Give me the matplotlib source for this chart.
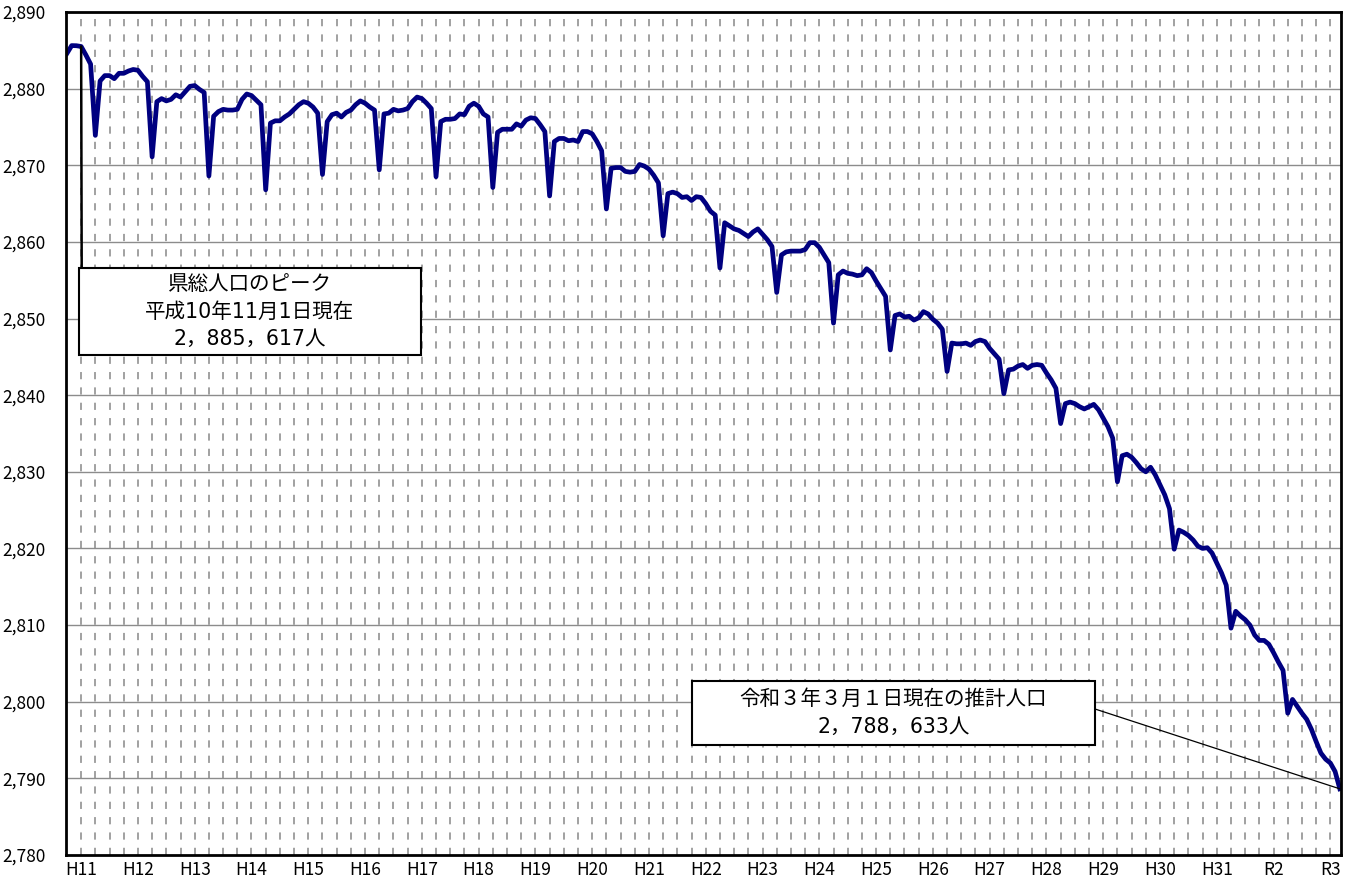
import matplotlib
matplotlib.use("Agg")
import matplotlib.pyplot as plt
from matplotlib.patches import Rectangle
import numpy as np

plt.rcParams['font.family'] = ['Noto Sans CJK JP', 'DejaVu Sans']

# Monthly estimated population (thousands), 1st of each month, Oct 1998 - Mar 2021
pop_1998 = [2884.6, 2885.617, 2885.6]  # Oct-Dec
pop_1999 = [2885.5, 2884.4, 2883.2, 2873.9, 2881.0, 2881.7, 2881.7, 2881.3, 2882.0, 2882.0, 2882.3, 2882.5]
pop_2000 = [2882.4, 2881.6, 2880.9, 2871.1, 2878.3, 2878.7, 2878.4, 2878.6, 2879.2, 2878.9, 2879.6, 2880.3]
pop_2001 = [2880.4, 2879.9, 2879.5, 2868.6, 2876.4, 2877.0, 2877.3, 2877.2, 2877.2, 2877.3, 2878.6, 2879.3]
pop_2002 = [2879.1, 2878.5, 2877.9, 2866.8, 2875.5, 2875.8, 2875.8, 2876.3, 2876.7, 2877.3, 2877.9, 2878.3]
pop_2003 = [2878.1, 2877.6, 2876.8, 2868.8, 2875.7, 2876.6, 2876.8, 2876.3, 2876.9, 2877.2, 2877.9, 2878.4]
pop_2004 = [2878.1, 2877.6, 2877.2, 2869.4, 2876.7, 2876.8, 2877.3, 2877.1, 2877.2, 2877.4, 2878.3, 2878.9]
pop_2005 = [2878.7, 2878.1, 2877.4, 2868.5, 2875.7, 2876.0, 2876.0, 2876.1, 2876.7, 2876.6, 2877.7, 2878.1]
pop_2006 = [2877.7, 2876.7, 2876.3, 2867.1, 2874.3, 2874.7, 2874.7, 2874.7, 2875.4, 2875.1, 2875.9, 2876.2]
pop_2007 = [2876.1, 2875.3, 2874.4, 2866.0, 2873.1, 2873.5, 2873.5, 2873.2, 2873.3, 2873.1, 2874.4, 2874.4]
pop_2008 = [2874.1, 2873.1, 2871.9, 2864.3, 2869.6, 2869.7, 2869.7, 2869.2, 2869.1, 2869.2, 2870.1, 2869.9]
pop_2009 = [2869.5, 2868.7, 2867.7, 2860.8, 2866.3, 2866.5, 2866.3, 2865.8, 2865.9, 2865.4, 2865.9, 2865.8]
pop_2010 = [2865.0, 2864.0, 2863.5, 2856.6, 2862.5, 2862.1, 2861.7, 2861.5, 2861.1, 2860.7, 2861.3, 2861.7]
pop_2011 = [2861.0, 2860.3, 2859.4, 2853.4, 2858.3, 2858.7, 2858.8, 2858.8, 2858.8, 2859.0, 2859.9, 2859.9]
pop_2012 = [2859.3, 2858.3, 2857.3, 2849.4, 2855.7, 2856.2, 2855.9, 2855.8, 2855.6, 2855.7, 2856.5, 2856.0]
pop_2013 = [2854.9, 2853.9, 2852.9, 2845.9, 2850.4, 2850.6, 2850.2, 2850.3, 2849.8, 2850.1, 2850.9, 2850.6]
pop_2014 = [2849.9, 2849.4, 2848.6, 2843.1, 2846.8, 2846.7, 2846.7, 2846.8, 2846.5, 2847.0, 2847.2, 2847.0]
pop_2015 = [2846.1, 2845.4, 2844.7, 2840.2, 2843.3, 2843.4, 2843.8, 2844.0, 2843.5, 2843.9, 2844.0, 2843.9]
pop_2016 = [2842.9, 2842.0, 2840.9, 2836.3, 2838.9, 2839.1, 2838.9, 2838.5, 2838.2, 2838.5, 2838.8, 2838.1]
pop_2017 = [2837.0, 2835.9, 2834.4, 2828.7, 2832.1, 2832.3, 2831.9, 2831.2, 2830.4, 2830.0, 2830.6, 2829.6]
pop_2018 = [2828.3, 2827.0, 2825.2, 2819.9, 2822.4, 2822.1, 2821.7, 2821.1, 2820.3, 2820.0, 2820.1, 2819.4]
pop_2019 = [2818.1, 2816.8, 2815.2, 2809.6, 2811.8, 2811.2, 2810.7, 2810.0, 2808.7, 2808.0, 2808.0, 2807.5]
pop_2020 = [2806.4, 2805.2, 2804.1, 2798.5, 2800.3, 2799.4, 2798.5, 2797.7, 2796.4, 2794.8, 2793.3, 2792.5]
pop_2021 = [2792.0, 2790.9, 2788.633]  # Jan-Mar

year_labels = ['H11', 'H12', 'H13', 'H14', 'H15', 'H16', 'H17', 'H18', 'H19', 'H20',
               'H21', 'H22', 'H23', 'H24', 'H25', 'H26', 'H27', 'H28', 'H29', 'H30',
               'H31', 'R2', 'R3']
y_ticks = [2780, 2790, 2800, 2810, 2820, 2830, 2840, 2850, 2860, 2870, 2880, 2890]

peak_text = ['県総人口のピーク', '平成10年11月1日現在', '2，885，617人']
latest_text = ['令和３年３月１日現在の推計人口', '2，788，633人']

series = (pop_1998 + pop_1999 + pop_2000 + pop_2001 + pop_2002 + pop_2003 + pop_2004 +
          pop_2005 + pop_2006 + pop_2007 + pop_2008 + pop_2009 + pop_2010 + pop_2011 +
          pop_2012 + pop_2013 + pop_2014 + pop_2015 + pop_2016 + pop_2017 + pop_2018 +
          pop_2019 + pop_2020 + pop_2021)
x = np.arange(len(series))

W, H = 1351, 884
fig = plt.figure(figsize=(W / 100, H / 100), dpi=100)
L, R, T, B = 66, 1341, 12, 855
ax = fig.add_axes([L / W, 1 - B / H, (R - L) / W, (B - T) / H])

ax.set_xlim(-0.2, len(series) - 0.75)
ax.set_ylim(2780, 2890)

# quarterly dashed vertical grid (Jan, Apr, Jul, Oct)
for q in range(3, len(series), 3):
    ax.axvline(q, color='#9a9a9a', lw=1.3, ls=(0, (4, 4.5)), zorder=1)
for yv in y_ticks[1:-1]:
    ax.axhline(yv, color='#8c8c8c', lw=1.0, zorder=1)

ax.plot(x, series, color='#000080', lw=3.4, solid_joinstyle='round', zorder=3)

jan_idx = [3 + 12 * k for k in range(len(year_labels))]
ax.set_xticks(jan_idx)
ax.set_xticklabels(year_labels, fontsize=12.5)
ax.set_yticks(y_ticks)
ax.set_yticklabels([f'{v:,}' for v in y_ticks], fontsize=12.5)
ax.tick_params(axis='both', length=0)
ax.tick_params(axis='y', pad=14.5)
ax.tick_params(axis='x', pad=4)

for s in ax.spines.values():
    s.set_color('black')
    s.set_linewidth(2)
    s.set_zorder(5)


def px_to_ax(px, py):
    return ((px - L) / (R - L), (B - py) / (B - T))


box_font = ['DejaVu Sans', 'Noto Sans CJK JP']

# peak annotation box
peak_i = int(np.argmax(series))
b1 = (79, 268, 421, 355)
x0, y0 = px_to_ax(b1[0], b1[3])
x1, y1 = px_to_ax(b1[2], b1[1])
ax.annotate('', xy=(peak_i + 2, series[peak_i + 2]), xycoords='data',
            xytext=(px_to_ax(81.7, b1[1])), textcoords='axes fraction',
            arrowprops=dict(arrowstyle='-', color='black', lw=1.8,
                            shrinkA=0, shrinkB=0), zorder=4)
ax.add_patch(Rectangle((x0, y0), x1 - x0, y1 - y0, transform=ax.transAxes,
                       facecolor='white', edgecolor='black', lw=1.5, zorder=6))
cy = (b1[1] + b1[3]) / 2
for k, t in enumerate(peak_text):
    tx, ty = px_to_ax((b1[0] + b1[2]) / 2, cy + (k - 1) * 27.5)
    ax.text(tx, ty, t, transform=ax.transAxes, ha='center', va='center',
            fontsize=14.8, family=box_font, zorder=7)

# latest annotation box
b2 = (692, 681, 1095, 745)
x0, y0 = px_to_ax(b2[0], b2[3])
x1, y1 = px_to_ax(b2[2], b2[1])
ax.annotate('', xy=(x[-1], series[-1]), xycoords='data',
            xytext=(px_to_ax(b2[2], 709)), textcoords='axes fraction',
            arrowprops=dict(arrowstyle='-', color='black', lw=0.9,
                            shrinkA=0, shrinkB=0), zorder=4)
ax.add_patch(Rectangle((x0, y0), x1 - x0, y1 - y0, transform=ax.transAxes,
                       facecolor='white', edgecolor='black', lw=1.5, zorder=6))
cy = (b2[1] + b2[3]) / 2
for k, t in enumerate(latest_text):
    tx, ty = px_to_ax((b2[0] + b2[2]) / 2, cy + (k - 0.5) * 28)
    ax.text(tx, ty, t, transform=ax.transAxes, ha='center', va='center',
            fontsize=14.8, family=box_font, zorder=7)

fig.savefig('out.png', dpi=100)
